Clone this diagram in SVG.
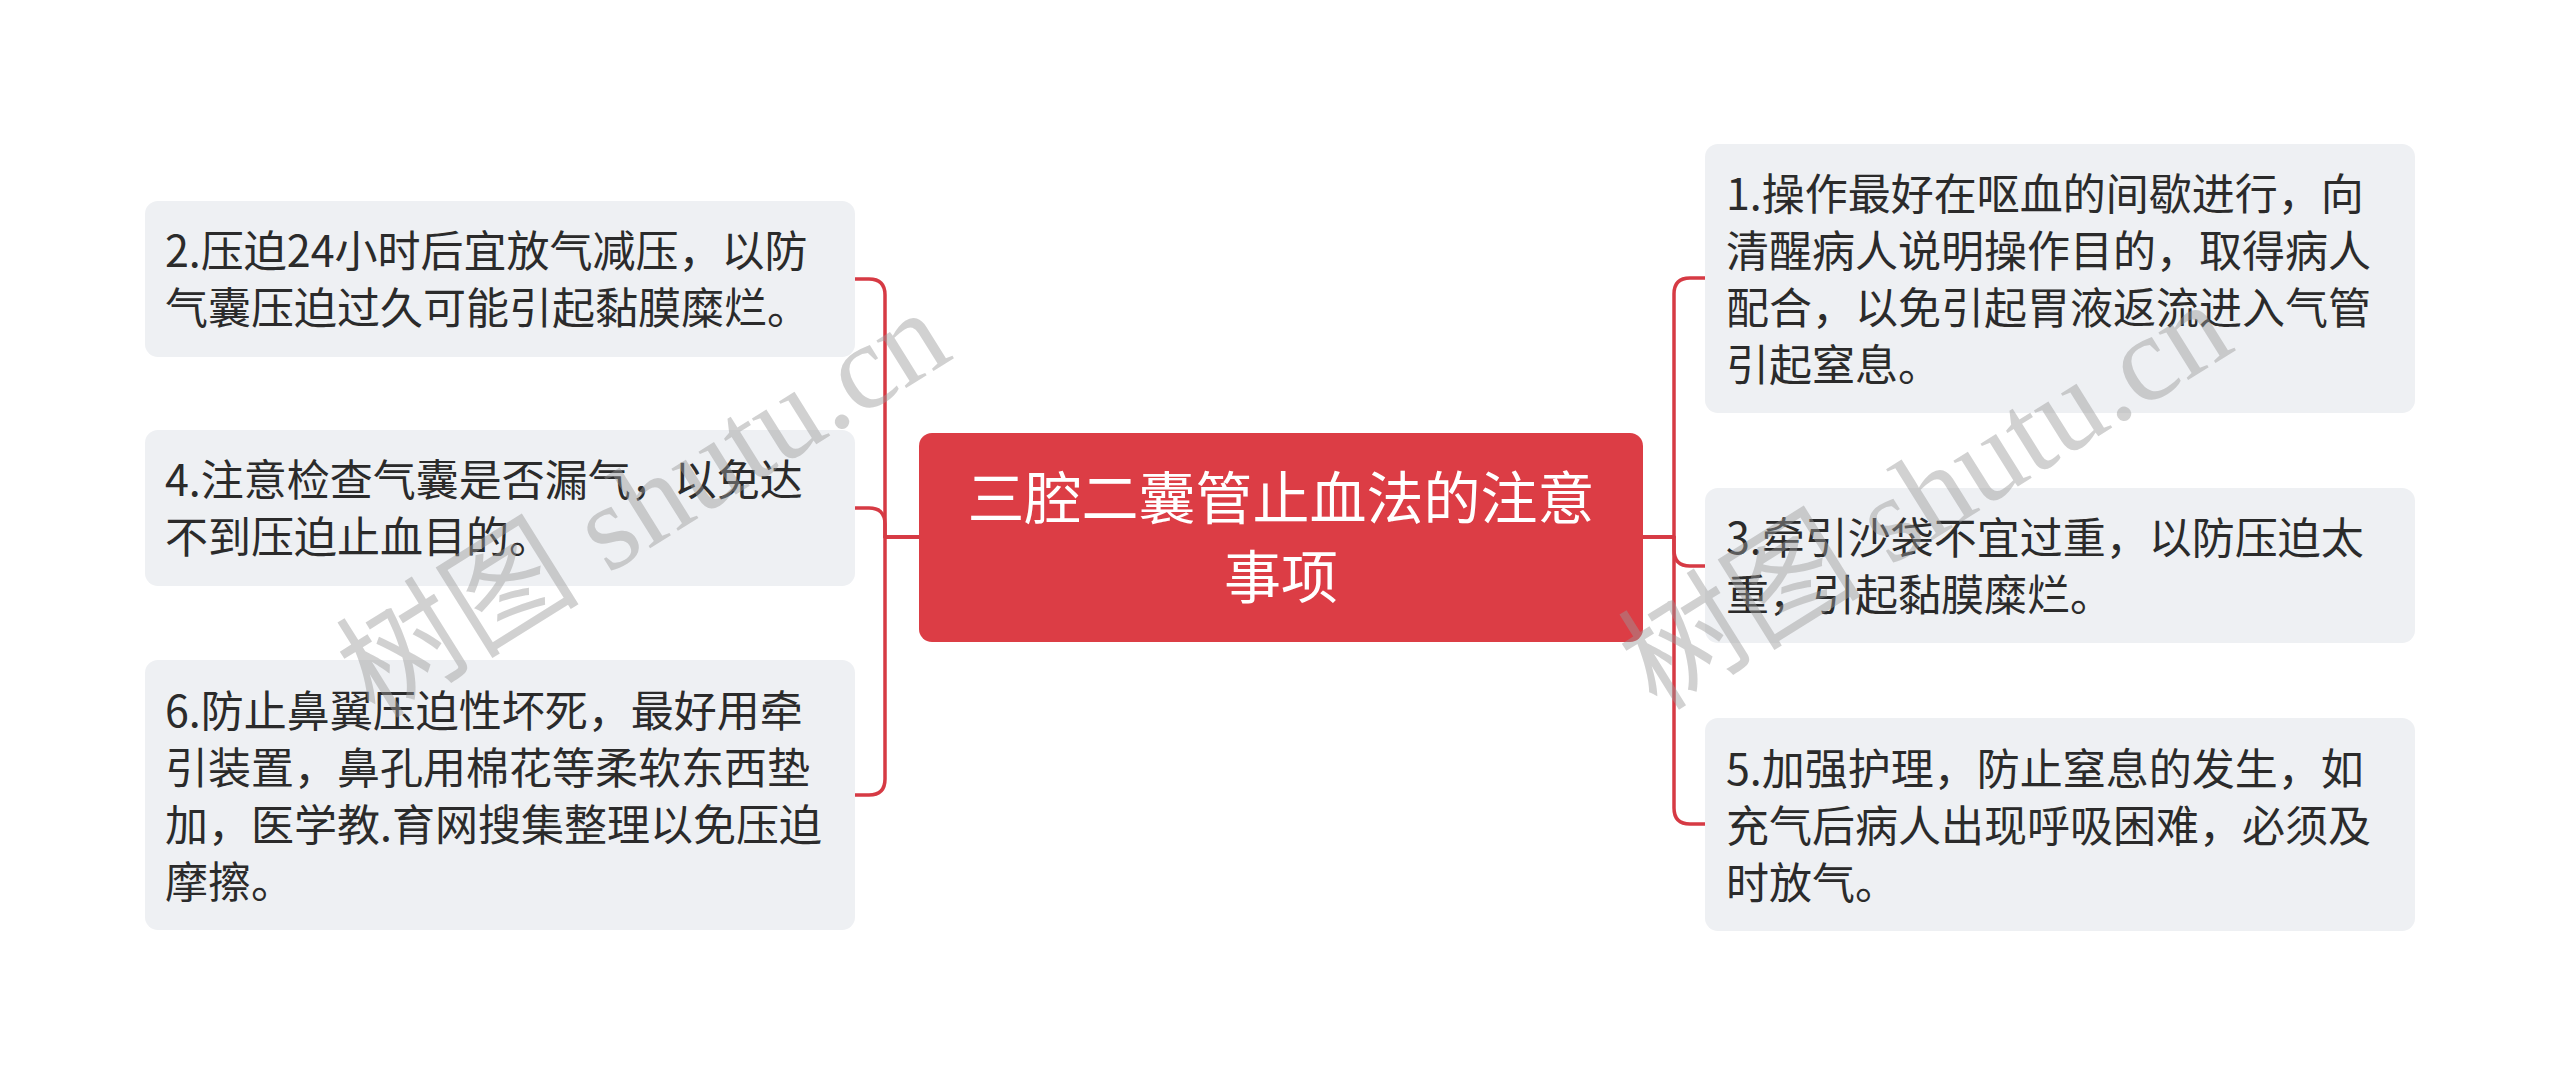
<svg xmlns="http://www.w3.org/2000/svg" width="2560" height="1075" viewBox="0 0 2560 1075">
<style>
.conn{fill:none;stroke:#d63a44;stroke-width:3.5;stroke-linejoin:round}
.box{fill:#eef0f3}
.t{font-family:"Noto Sans CJK SC","Noto Sans",sans-serif;font-size:43px;fill:#2b2b2b}
.ct{font-family:"Noto Sans CJK SC","Noto Sans",sans-serif;font-size:57px;fill:#ffffff;text-anchor:middle}
.wm{font-family:"Liberation Serif","Noto Sans CJK SC",serif;font-size:122px;fill:#9a9a9a;fill-opacity:0.45}
</style>
<rect width="2560" height="1075" fill="#ffffff"/>
<g id="connectors">
<path class="conn" d="M919 537 L885 537 L885 295 Q885 279 869 279 L854 279"/>
<path class="conn" d="M919 537 L885 537 L885 524 Q885 508 869 508 L854 508"/>
<path class="conn" d="M919 537 L885 537 L885 779 Q885 795 869 795 L854 795"/>
<path class="conn" d="M1643 537 L1674 537 L1674 294 Q1674 278 1690 278 L1705 278"/>
<path class="conn" d="M1643 537 L1674 537 L1674 550 Q1674 566 1690 566 L1705 566"/>
<path class="conn" d="M1643 537 L1674 537 L1674 808 Q1674 824 1690 824 L1705 824"/>
</g>
<g id="root">
<rect x="919" y="433" width="724" height="209" rx="13" fill="#dc3d45"/>
<text class="ct" x="1281" y="519">三腔二囊管止血法的注意</text>
<text class="ct" x="1281" y="598">事项</text>
</g>
<g id="node-2">
<rect class="box" x="145" y="201" width="710" height="156" rx="13"/>
<text class="t" x="165" y="267">2.压迫24小时后宜放气减压，以防</text>
<text class="t" x="165" y="324">气囊压迫过久可能引起黏膜糜烂。</text>
</g>
<g id="node-4">
<rect class="box" x="145" y="430" width="710" height="156" rx="13"/>
<text class="t" x="165" y="496">4.注意检查气囊是否漏气，以免达</text>
<text class="t" x="165" y="553">不到压迫止血目的。</text>
</g>
<g id="node-6">
<rect class="box" x="145" y="660" width="710" height="270" rx="13"/>
<text class="t" x="165" y="727">6.防止鼻翼压迫性坏死，最好用牵</text>
<text class="t" x="165" y="784">引装置，鼻孔用棉花等柔软东西垫</text>
<text class="t" x="165" y="841">加，医学教.育网搜集整理以免压迫</text>
<text class="t" x="165" y="898">摩擦。</text>
</g>
<g id="node-1">
<rect class="box" x="1705" y="144" width="710" height="269" rx="13"/>
<text class="t" x="1726" y="210">1.操作最好在呕血的间歇进行，向</text>
<text class="t" x="1726" y="267">清醒病人说明操作目的，取得病人</text>
<text class="t" x="1726" y="324">配合，以免引起胃液返流进入气管</text>
<text class="t" x="1726" y="381">引起窒息。</text>
</g>
<g id="node-3">
<rect class="box" x="1705" y="488" width="710" height="155" rx="13"/>
<text class="t" x="1726" y="554">3.牵引沙袋不宜过重，以防压迫太</text>
<text class="t" x="1726" y="611">重，引起黏膜糜烂。</text>
</g>
<g id="node-5">
<rect class="box" x="1705" y="718" width="710" height="213" rx="13"/>
<text class="t" x="1726" y="785">5.加强护理，防止窒息的发生，如</text>
<text class="t" x="1726" y="842">充气后病人出现呼吸困难，必须及</text>
<text class="t" x="1726" y="899">时放气。</text>
</g>
<g id="watermarks">
<text class="wm" transform="translate(375 720) rotate(-32)">树图 shutu.cn</text>
<text class="wm" transform="translate(1657 712) rotate(-32)">树图 shutu.cn</text>
</g>
</svg>
